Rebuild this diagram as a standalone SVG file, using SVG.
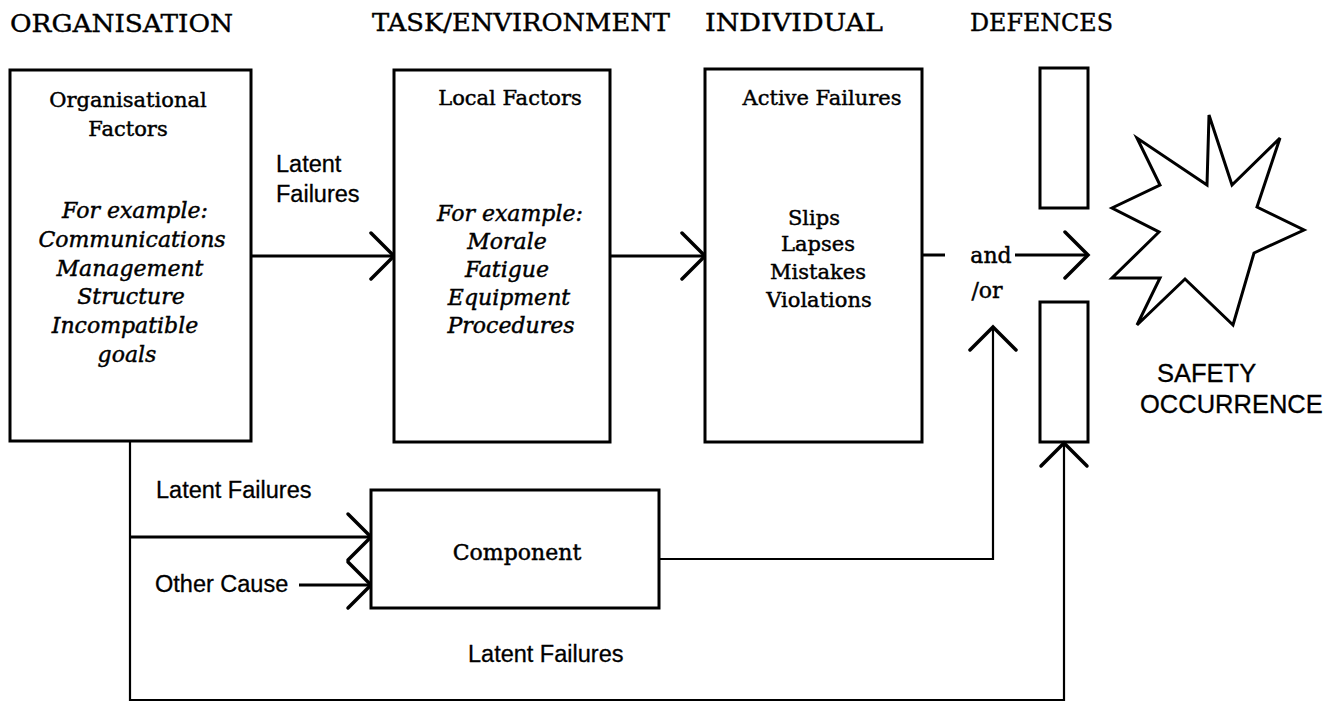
<svg xmlns="http://www.w3.org/2000/svg" width="1341" height="702" viewBox="0 0 1341 702">
<style>
  .box { fill: #fff; stroke: #000; stroke-width: 3; }
  .bar { fill: none; stroke: #000; stroke-width: 3; }
  .ln { fill: none; stroke: #000; stroke-width: 3; }
  .thin { fill: none; stroke: #000; stroke-width: 2.2; }
  .hdr { font-family: "DejaVu Serif", "Liberation Serif", serif; font-size: 25px; fill: #000; stroke: #000; stroke-width: 0.4; }
  .ser { font-family: "DejaVu Serif", "Liberation Serif", serif; font-size: 21px; fill: #000; stroke: #000; stroke-width: 0.45; text-anchor: middle; }
  .ital { font-family: "DejaVu Serif", "Liberation Serif", serif; font-style: italic; font-size: 22px; fill: #000; stroke: #000; stroke-width: 0.45; text-anchor: middle; }
  .sans { font-family: "Liberation Sans", Arial, sans-serif; font-size: 23.5px; fill: #000; stroke: #000; stroke-width: 0.3; }
  .big { font-family: "Liberation Sans", Arial, sans-serif; font-size: 25.5px; fill: #000; stroke: #000; stroke-width: 0.3; }
</style>
<defs>
  <marker id="arr" viewBox="-27 -27 30 54" refX="0" refY="0" markerWidth="30" markerHeight="54" markerUnits="userSpaceOnUse" orient="auto">
    <path d="M-23,-23 L0,0 L-23,23" fill="none" stroke="#000" stroke-width="3.5" stroke-linecap="round" stroke-linejoin="miter"/>
  </marker>
</defs>
<rect width="1341" height="702" fill="#fff"/>

<g id="headers">
  <text class="hdr" x="10" y="32" textLength="223" lengthAdjust="spacingAndGlyphs">ORGANISATION</text>
  <text class="hdr" x="372" y="31" textLength="298" lengthAdjust="spacingAndGlyphs">TASK/ENVIRONMENT</text>
  <text class="hdr" x="705" y="31" textLength="178" lengthAdjust="spacingAndGlyphs">INDIVIDUAL</text>
  <text class="hdr" x="970" y="31" textLength="143" lengthAdjust="spacingAndGlyphs">DEFENCES</text>
</g>

<g id="connectors">
  <line class="ln" x1="251" y1="256" x2="394" y2="256" marker-end="url(#arr)"/>
  <line class="ln" x1="610" y1="256" x2="705" y2="256" marker-end="url(#arr)"/>
  <line class="ln" x1="922" y1="255" x2="945" y2="255"/>
  <line class="ln" x1="1015" y1="255" x2="1088" y2="255" marker-end="url(#arr)"/>
  <polyline class="thin" points="130,441 130,700 1064,700 1064,443" marker-end="url(#arr)"/>
  <line class="ln" x1="130" y1="537" x2="371" y2="537" marker-end="url(#arr)"/>
  <line class="ln" x1="299" y1="585" x2="371" y2="585" marker-end="url(#arr)"/>
  <polyline class="thin" points="659,559 993,559 993,327" marker-end="url(#arr)"/>
</g>

<g id="organisational-factors">
  <rect class="box" x="10" y="70" width="241" height="371"/>
  <text class="ser" x="128" y="107">Organisational</text>
  <text class="ser" x="128" y="136">Factors</text>
  <text class="ital" x="135" y="218">For  example:</text>
  <text class="ital" x="132" y="247">Communications</text>
  <text class="ital" x="130" y="276">Management</text>
  <text class="ital" x="131" y="304">Structure</text>
  <text class="ital" x="125" y="333">Incompatible</text>
  <text class="ital" x="127" y="362">goals</text>
</g>

<g id="latent-label">
  <text class="sans" x="276" y="172">Latent</text>
  <text class="sans" x="276" y="202">Failures</text>
</g>

<g id="local-factors">
  <rect class="box" x="394" y="70" width="216" height="372"/>
  <text class="ser" x="510" y="105">Local Factors</text>
  <text class="ital" x="510" y="221">For  example:</text>
  <text class="ital" x="507" y="249">Morale</text>
  <text class="ital" x="507" y="277">Fatigue</text>
  <text class="ital" x="509" y="305">Equipment</text>
  <text class="ital" x="511" y="333">Procedures</text>
</g>

<g id="active-failures">
  <rect class="box" x="705" y="69" width="217" height="373"/>
  <text class="ser" x="822" y="105">Active Failures</text>
  <text class="ser" x="814" y="225">Slips</text>
  <text class="ser" x="818" y="251">Lapses</text>
  <text class="ser" x="818" y="279">Mistakes</text>
  <text class="ser" x="819" y="307">Violations</text>
</g>

<g id="andor">
  <text class="ser" x="991" y="263" style="font-size:22px">and</text>
  <text class="ser" x="987" y="298" style="font-size:22px">/or</text>
</g>

<g id="defences">
  <rect class="bar" x="1040" y="68" width="48" height="140"/>
  <rect class="bar" x="1040" y="302" width="48" height="140"/>
</g>

<g id="safety-occurrence">
  <polygon points="1209,115 1232,185 1280,138 1257,207 1304,230 1254,253 1233,325 1185,279 1137,325 1160,278 1112,278 1159,232 1112,208 1160,185 1137,138 1207,185" fill="#fff" stroke="#000" stroke-width="3" stroke-linejoin="miter"/>
  <text class="big" x="1157" y="382">SAFETY</text>
  <text class="big" x="1140" y="413">OCCURRENCE</text>
</g>

<g id="component">
  <rect class="box" x="371" y="490" width="288" height="118"/>
  <text class="ser" x="517" y="560" style="font-size:22px">Component</text>
</g>

<g id="bottom-labels">
  <text class="sans" x="156" y="498">Latent Failures</text>
  <text class="sans" x="155" y="592">Other Cause</text>
  <text class="sans" x="468" y="662">Latent Failures</text>
</g>
</svg>
